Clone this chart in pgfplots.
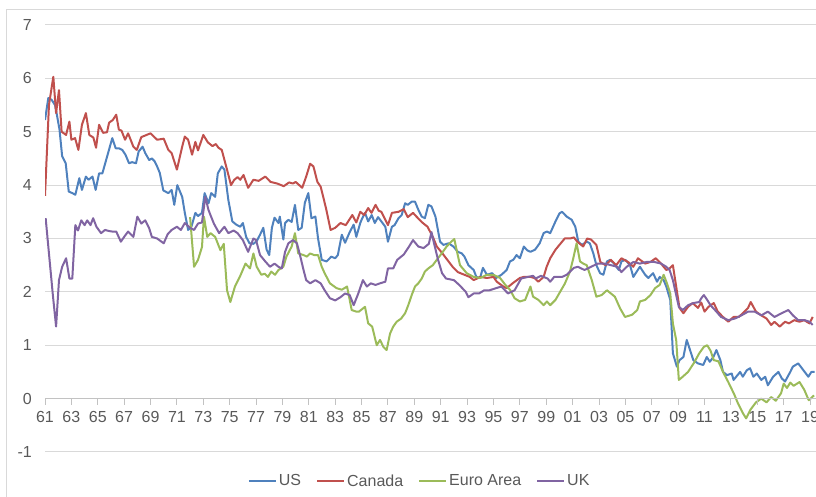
\documentclass[border=0pt]{standalone}
\usepackage{pgfplots}
\pgfplotsset{compat=1.18}
\usepackage{fontspec}
\setmainfont{Liberation Sans}
\definecolor{cUS}{HTML}{4F81BD}
\definecolor{cCA}{HTML}{C0504D}
\definecolor{cEA}{HTML}{9BBB59}
\definecolor{cUK}{HTML}{8064A2}
\definecolor{txt}{HTML}{595959}
\definecolor{grd}{HTML}{D9D9D9}
\begin{document}
\begin{tikzpicture}
\begin{axis}[
  name=ax,
  scale only axis,
  width=771pt, height=427pt,
  xmin=61, xmax=119.45,
  ymin=-1, ymax=7,
  ytick={-1,0,...,7},
  xtick={61,63,...,119},
  xticklabels={61,63,65,67,69,71,73,75,77,79,81,83,85,87,89,91,93,95,97,99,01,03,05,07,09,11,13,15,17,19},
  axis line style={draw=none},
  major tick style={draw=none},
  ymajorgrids,
  grid style={grd, line width=1pt},
  /pgf/number format/assume math mode=true,
  tick label style={font=\fontsize{16}{19}\selectfont, text=txt},
  yticklabel style={anchor=east, inner sep=0pt, xshift=-13pt},
  xticklabel style={anchor=north, inner sep=0pt, yshift=41pt},
  legend columns=4,
  legend style={at={(axis description cs:0.486,0)}, anchor=center, yshift=-29pt,
    draw=none, fill=none, font=\fontsize{16}{19}\selectfont, text=txt,
    /tikz/every even column/.append style={column sep=13pt},
    inner sep=0pt},
  legend image code/.code={\draw[#1] (0pt,0pt) -- (27pt,0pt);},
  every axis plot/.append style={line width=2pt, line join=round, mark=none},
]
\addplot[cUS] coordinates {
(61.0,5.22)(61.25,5.63)(61.5,5.6)(61.76,5.5)(61.9,5.32)(62.1,5.04)(62.3,4.54)(62.57,4.41)(62.8,3.88)(63.07,3.85)
(63.3,3.82)(63.6,4.13)(63.8,3.91)(64.1,4.16)(64.3,4.1)(64.6,4.16)(64.84,3.91)(65.1,4.22)(65.35,4.22)(65.6,4.44)
(65.85,4.66)(66.1,4.88)(66.36,4.69)(66.6,4.69)(66.86,4.66)(67.1,4.57)(67.37,4.41)(67.6,4.43)(67.9,4.41)(68.1,4.63)
(68.4,4.72)(68.6,4.6)(68.9,4.47)(69.1,4.5)(69.3,4.45)(69.5,4.35)(69.7,4.23)(69.97,3.9)(70.35,3.85)(70.6,3.91)
(70.8,3.63)(71.03,4.0)(71.4,3.78)(71.6,3.48)(71.85,3.16)(72.1,3.22)(72.4,3.48)(72.6,3.42)(72.9,3.48)(73.1,3.85)
(73.4,3.66)(73.6,3.85)(73.9,3.78)(74.1,4.22)(74.4,4.35)(74.6,4.29)(74.9,3.72)(75.2,3.32)(75.5,3.26)(75.8,3.22)
(76.0,3.29)(76.25,3.03)(76.5,2.91)(76.8,2.9)(77.05,2.95)(77.3,3.07)(77.55,3.2)(77.8,2.79)(78.0,2.69)(78.2,3.2)
(78.4,3.39)(78.7,3.29)(78.8,3.41)(79.07,2.98)(79.2,3.29)(79.45,3.35)(79.7,3.31)(79.95,3.63)(80.2,3.16)(80.46,3.2)
(80.7,3.67)(80.96,3.85)(81.2,3.38)(81.5,3.41)(81.7,3.0)(81.98,2.6)(82.35,2.57)(82.7,2.66)(83.0,2.63)(83.2,2.69)
(83.5,3.07)(83.75,2.92)(84.1,3.12)(84.4,3.26)(84.6,3.03)(84.9,3.29)(85.0,3.35)(85.26,3.48)(85.5,3.32)(85.77,3.44)
(86.0,3.29)(86.25,3.4)(86.5,3.32)(86.8,3.22)(87.0,2.94)(87.3,3.22)(87.5,3.25)(87.8,3.38)(88.04,3.44)(88.3,3.66)
(88.5,3.63)(88.8,3.69)(89.05,3.69)(89.3,3.54)(89.56,3.41)(89.8,3.38)(90.06,3.63)(90.3,3.6)(90.6,3.41)(90.95,2.94)
(91.2,2.88)(91.6,2.91)(91.96,2.85)(92.3,2.75)(92.6,2.72)(92.8,2.66)(93.1,2.5)(93.5,2.41)(93.7,2.28)(93.98,2.26)
(94.2,2.45)(94.5,2.32)(94.9,2.35)(95.2,2.26)(95.6,2.32)(96.0,2.41)(96.25,2.57)(96.5,2.6)(96.75,2.69)(97.0,2.63)
(97.3,2.85)(97.55,2.78)(97.8,2.75)(98.15,2.79)(98.5,2.91)(98.8,3.1)(99.05,3.13)(99.3,3.1)(99.7,3.32)(100.0,3.47)
(100.2,3.5)(100.55,3.41)(100.93,3.35)(101.2,3.22)(101.43,2.94)(101.7,2.88)(102.07,2.94)(102.3,2.91)(102.57,2.72)(102.8,2.5)
(103.08,2.35)(103.33,2.32)(103.6,2.57)(103.84,2.6)(104.1,2.54)(104.5,2.41)(104.7,2.57)(105.0,2.6)(105.35,2.5)(105.6,2.28)
(105.86,2.38)(106.1,2.47)(106.5,2.32)(106.74,2.26)(107.1,2.35)(107.4,2.19)(107.6,2.28)(107.9,2.22)(108.1,2.1)(108.4,1.85)
(108.6,0.85)(108.9,0.6)(109.1,0.72)(109.4,0.78)(109.65,1.1)(109.9,0.91)(110.15,0.72)(110.5,0.66)(110.9,0.63)(111.17,0.78)
(111.4,0.69)(111.67,0.78)(111.9,0.91)(112.2,0.72)(112.4,0.5)(112.7,0.44)(113.06,0.47)(113.2,0.35)(113.4,0.41)(113.7,0.5)
(113.9,0.41)(114.2,0.53)(114.45,0.57)(114.7,0.41)(114.96,0.47)(115.3,0.35)(115.6,0.41)(115.8,0.25)(116.2,0.41)(116.6,0.5)
(116.85,0.38)(117.1,0.32)(117.5,0.5)(117.7,0.6)(118.1,0.66)(118.5,0.53)(118.87,0.41)(119.1,0.5)(119.35,0.5)
};
\addlegendentry{US}
\addplot[cCA] coordinates {
(61.0,3.8)(61.3,5.5)(61.63,6.03)(61.84,5.35)(62.06,5.78)(62.26,5.0)(62.6,4.94)(62.85,5.19)(63.0,4.85)(63.28,4.88)
(63.53,4.66)(63.8,5.13)(64.1,5.35)(64.36,4.94)(64.67,4.89)(64.87,4.7)(65.1,5.13)(65.4,4.98)(65.7,4.99)(65.86,5.17)
(66.14,5.22)(66.4,5.32)(66.6,5.04)(66.8,5.02)(67.07,4.85)(67.3,4.97)(67.7,4.72)(67.96,4.66)(68.3,4.9)(68.7,4.94)
(69.0,4.97)(69.5,4.85)(70.0,4.87)(70.35,4.66)(70.6,4.6)(71.0,4.29)(71.4,4.72)(71.6,4.91)(71.85,4.85)(72.15,4.57)
(72.4,4.81)(72.6,4.65)(73.0,4.94)(73.35,4.8)(73.7,4.73)(73.95,4.77)(74.15,4.7)(74.4,4.66)(74.8,4.29)(75.1,4.0)
(75.35,4.1)(75.6,4.15)(75.8,4.1)(76.05,4.19)(76.4,3.95)(76.8,4.1)(77.2,4.08)(77.7,4.16)(78.1,4.06)(78.6,4.03)
(79.1,3.98)(79.5,4.05)(79.8,4.03)(80.0,4.06)(80.5,3.95)(80.8,4.16)(81.1,4.4)(81.35,4.35)(81.65,4.06)(81.9,3.97)
(82.3,3.57)(82.65,3.16)(83.0,3.2)(83.4,3.29)(83.8,3.25)(84.3,3.44)(84.6,3.3)(84.9,3.5)(85.2,3.44)(85.5,3.57)
(85.75,3.48)(86.06,3.63)(86.3,3.52)(86.5,3.5)(87.0,3.25)(87.3,3.48)(87.8,3.5)(88.2,3.55)(88.5,3.4)(88.9,3.48)
(89.2,3.4)(89.6,3.3)(90.0,3.22)(90.4,3.03)(90.7,2.85)(91.1,2.73)(91.5,2.6)(91.9,2.47)(92.3,2.37)(92.8,2.32)
(93.2,2.28)(93.5,2.22)(94.0,2.28)(94.5,2.26)(95.0,2.28)(95.25,2.19)(95.75,2.1)(96.0,2.07)(96.5,2.17)(97.0,2.26)
(97.3,2.28)(97.8,2.28)(98.1,2.26)(98.4,2.19)(98.8,2.28)(99.03,2.47)(99.3,2.63)(99.7,2.79)(100.0,2.88)(100.4,3.0)
(100.8,3.0)(101.1,3.02)(101.35,2.94)(101.8,2.85)(102.1,3.0)(102.4,2.98)(102.8,2.88)(103.1,2.56)(103.5,2.5)(103.9,2.6)
(104.3,2.5)(104.7,2.63)(105.2,2.56)(105.6,2.47)(105.95,2.63)(106.5,2.53)(106.9,2.56)(107.3,2.63)(107.7,2.53)(108.1,2.41)
(108.35,2.44)(108.6,2.5)(108.85,2.1)(109.1,1.7)(109.4,1.6)(109.75,1.72)(110.1,1.79)(110.5,1.7)(110.75,1.8)(111.0,1.63)
(111.3,1.72)(111.7,1.79)(112.0,1.63)(112.4,1.53)(112.8,1.44)(113.2,1.53)(113.6,1.53)(113.9,1.6)(114.3,1.7)(114.5,1.81)
(114.9,1.63)(115.3,1.56)(115.7,1.5)(116.05,1.38)(116.3,1.44)(116.7,1.35)(117.1,1.44)(117.4,1.41)(117.8,1.47)(118.2,1.44)
(118.55,1.47)(118.95,1.41)(119.2,1.53)
};
\addlegendentry{Canada}
\addplot[cEA] coordinates {
(72.0,3.4)(72.3,2.47)(72.6,2.6)(72.9,2.84)(73.05,3.41)(73.3,3.03)(73.55,3.1)(73.9,3.03)(74.3,2.78)(74.55,2.9)
(74.8,2.03)(75.05,1.81)(75.4,2.1)(75.8,2.3)(76.2,2.53)(76.54,2.44)(76.8,2.72)(77.05,2.47)(77.4,2.32)(77.65,2.34)
(77.9,2.28)(78.15,2.38)(78.44,2.32)(78.7,2.41)(79.07,2.47)(79.3,2.66)(79.7,2.85)(79.95,3.1)(80.2,2.72)(80.6,2.69)
(80.85,2.66)(81.1,2.72)(81.4,2.69)(81.7,2.69)(81.98,2.47)(82.2,2.35)(82.6,2.16)(83.1,2.07)(83.5,2.04)(83.9,2.1)
(84.25,1.66)(84.6,1.63)(84.8,1.63)(85.26,1.72)(85.5,1.41)(85.8,1.35)(86.15,1.0)(86.4,1.1)(86.65,0.97)(86.9,0.91)
(87.16,1.22)(87.4,1.35)(87.66,1.44)(88.0,1.5)(88.3,1.6)(88.54,1.75)(88.8,1.94)(89.05,2.1)(89.3,2.16)(89.56,2.25)
(89.8,2.38)(90.06,2.44)(90.4,2.5)(90.7,2.6)(91.07,2.72)(91.45,2.85)(91.8,2.94)(92.03,2.99)(92.2,2.79)(92.46,2.5)
(92.97,2.35)(93.5,2.28)(94.0,2.26)(94.5,2.32)(95.0,2.32)(95.5,2.26)(95.9,2.13)(96.25,2.04)(96.6,1.88)(97.0,1.82)
(97.4,1.85)(97.8,2.1)(98.0,1.91)(98.4,1.85)(98.8,1.75)(99.05,1.82)(99.3,1.75)(99.7,1.85)(100.05,2.0)(100.4,2.15)
(100.8,2.38)(101.05,2.63)(101.3,2.91)(101.56,2.57)(101.8,2.53)(102.07,2.5)(102.45,2.22)(102.8,1.91)(103.2,1.94)(103.6,2.03)
(103.9,1.97)(104.2,1.91)(104.6,1.69)(104.97,1.53)(105.5,1.57)(105.9,1.66)(106.1,1.82)(106.5,1.85)(106.9,1.94)(107.25,2.07)
(107.6,2.13)(107.9,2.32)(108.15,2.16)(108.4,1.97)(108.6,1.41)(108.85,1.1)(109.05,0.35)(109.3,0.4)(109.75,0.5)(110.2,0.67)
(110.6,0.85)(110.95,0.97)(111.2,1.0)(111.45,0.9)(111.7,0.72)(112.05,0.7)(112.4,0.5)(112.8,0.31)(113.25,0.08)(113.5,-0.07)
(113.9,-0.27)(114.15,-0.37)(114.5,-0.2)(114.9,-0.07)(115.3,0.0)(115.7,-0.07)(116.05,0.03)(116.4,-0.04)(116.8,0.1)(117.0,0.28)
(117.25,0.2)(117.5,0.3)(117.75,0.24)(118.2,0.31)(118.55,0.17)(118.9,-0.03)(119.3,0.06)
};
\addlegendentry{Euro Area}
\addplot[cUK] coordinates {
(61.05,3.38)(61.3,2.72)(61.6,1.93)(61.84,1.35)(62.06,2.22)(62.3,2.47)(62.6,2.63)(62.85,2.25)(63.07,2.25)(63.3,3.25)
(63.5,3.15)(63.75,3.34)(64.0,3.25)(64.2,3.34)(64.45,3.25)(64.65,3.38)(64.9,3.22)(65.25,3.1)(65.55,3.16)(65.85,3.14)
(66.1,3.13)(66.4,3.13)(66.75,2.94)(67.0,3.03)(67.3,3.13)(67.7,3.03)(68.0,3.41)(68.3,3.28)(68.6,3.34)(68.9,3.19)
(69.1,3.03)(69.5,3.0)(70.0,2.91)(70.3,3.08)(70.6,3.16)(71.0,3.22)(71.3,3.16)(71.6,3.29)(72.0,3.2)(72.3,3.16)
(72.6,3.28)(72.9,3.3)(73.15,3.78)(73.4,3.53)(73.8,3.28)(74.2,3.1)(74.6,3.22)(74.9,3.1)(75.3,3.15)(75.6,3.1)
(76.0,2.97)(76.4,2.75)(76.8,3.0)(77.0,2.97)(77.3,2.69)(77.7,2.57)(78.06,2.47)(78.4,2.53)(78.7,2.47)(78.95,2.44)
(79.2,2.75)(79.45,2.91)(79.8,2.97)(80.1,2.91)(80.33,2.69)(80.6,2.41)(80.8,2.22)(81.1,2.16)(81.5,2.22)(81.9,2.16)
(82.2,2.03)(82.6,1.88)(83.0,1.84)(83.4,1.9)(83.75,1.97)(84.1,1.94)(84.4,1.75)(84.75,1.97)(85.1,2.22)(85.4,2.1)
(85.7,2.16)(86.06,2.13)(86.4,2.16)(86.8,2.19)(87.0,2.44)(87.4,2.44)(87.7,2.6)(88.2,2.7)(88.6,2.85)(88.9,2.97)
(89.3,2.85)(89.7,2.82)(90.1,2.9)(90.3,3.12)(90.5,2.9)(90.8,2.6)(91.1,2.35)(91.4,2.25)(92.0,2.22)(92.4,2.13)
(92.9,2.0)(93.1,1.9)(93.5,1.97)(93.9,1.97)(94.3,2.03)(94.7,2.03)(95.2,2.07)(95.6,2.1)(96.1,1.97)(96.6,2.03)
(97.1,2.25)(97.6,2.28)(98.0,2.3)(98.2,2.25)(98.6,2.3)(99.1,2.25)(99.3,2.19)(99.6,2.28)(100.2,2.28)(100.55,2.32)
(101.1,2.45)(101.4,2.47)(101.9,2.41)(102.4,2.47)(102.9,2.53)(103.4,2.53)(103.9,2.5)(104.4,2.47)(104.7,2.37)(105.1,2.47)
(105.6,2.56)(106.1,2.53)(106.6,2.56)(107.2,2.56)(107.7,2.53)(108.1,2.47)(108.35,2.41)(108.6,2.22)(108.85,1.94)(109.05,1.72)
(109.35,1.66)(109.75,1.75)(110.15,1.79)(110.6,1.81)(110.75,1.88)(110.95,1.94)(111.2,1.85)(111.45,1.75)(111.9,1.63)(112.25,1.53)
(112.8,1.47)(113.3,1.5)(113.8,1.56)(114.3,1.63)(114.8,1.63)(115.3,1.56)(115.8,1.63)(116.3,1.53)(116.85,1.6)(117.35,1.66)
(117.7,1.56)(118.1,1.47)(118.6,1.47)(118.95,1.44)(119.2,1.38)
};
\addlegendentry{UK}
\draw[black!24, line width=1pt] (axis cs:61,0) -- (axis cs:119.45,0);
\pgfplotsinvokeforeach{61,63,...,119}{
  \draw[black!24, line width=1pt] (axis cs:#1,0) -- ++(0pt,-6pt);
}
\end{axis}
\draw[black!15, line width=1pt] ([shift={(-38pt,-60pt)}]ax.south west) -- ([shift={(-38pt,15pt)}]ax.north west) -- ([shift={(10pt,15pt)}]ax.north east);
\pgfresetboundingbox
\useasboundingbox ([shift={(-45pt,-45pt)}]ax.south west) rectangle ([shift={(0pt,25pt)}]ax.north east);
\end{tikzpicture}
\end{document}
